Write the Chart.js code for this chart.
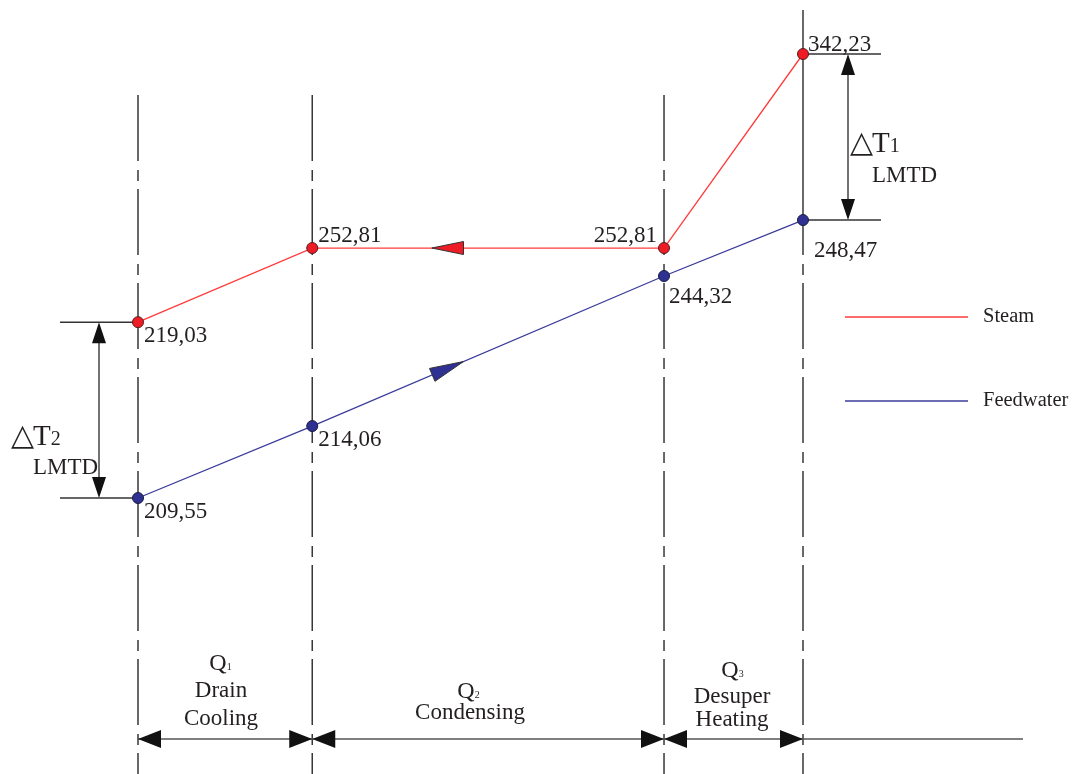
<!DOCTYPE html>
<html>
<head>
<meta charset="utf-8">
<script src="https://cdn.jsdelivr.net/npm/chart.js@4/dist/chart.umd.min.js"></script>
<style>
html,body{margin:0;padding:0;background:#fff;}
#c{display:block;}
</style>
</head>
<body>
<canvas id="c" width="1078" height="774"></canvas>
<script>
// ---- data ----
const zones = ['Drain Cooling', 'Condensing', 'Desuper Heating'];
const zoneQ = ['1', '2', '3'];
// cumulative heat-duty share (%) at the zone boundaries (x positions)
const boundaries = [0, 26.2, 79.1, 100];
// schematic vertical level of each state point (diagram is not to scale)
const steamLevel = [39.6, 56.3, 56.3, 100];
const feedLevel = [0, 16.2, 50.0, 62.6];
// temperature labels written at the points (°C)
const steamLabels = ['219,03', '252,81', '252,81', '342,23'];
const feedLabels = ['209,55', '214,06', '244,32', '248,47'];
const seriesNames = ['Steam', 'Feedwater'];

const SERIF = '"Liberation Serif", "Times New Roman", serif';
const INK = '#231f20';

function head(ctx, tx, ty, dx, dy, len, half, fill, stroke) {
  const n = Math.hypot(dx, dy); dx /= n; dy /= n;
  const bx = tx - dx * len, by = ty - dy * len;
  ctx.beginPath();
  ctx.moveTo(tx, ty);
  ctx.lineTo(bx - dy * half, by + dx * half);
  ctx.lineTo(bx + dy * half, by - dx * half);
  ctx.closePath();
  ctx.fillStyle = fill; ctx.fill();
  if (stroke) { ctx.strokeStyle = stroke; ctx.lineWidth = 1; ctx.stroke(); }
}
function line(ctx, x1, y1, x2, y2, w, col, dash, off) {
  ctx.save();
  ctx.beginPath();
  ctx.setLineDash(dash || []);
  ctx.lineDashOffset = off || 0;
  ctx.moveTo(x1, y1); ctx.lineTo(x2, y2);
  ctx.lineWidth = w; ctx.strokeStyle = col; ctx.stroke();
  ctx.restore();
}
function txt(ctx, s, x, y, size, align) {
  ctx.font = size + 'px ' + SERIF;
  ctx.fillStyle = INK;
  ctx.textAlign = align || 'left';
  ctx.textBaseline = 'alphabetic';
  ctx.fillText(s, x, y);
}
function qlabel(ctx, sub, x, y) {
  ctx.font = '24px ' + SERIF;
  const w = ctx.measureText('Q').width;
  const sw = 6;
  const left = x - (w + sw) / 2;
  txt(ctx, 'Q', left, y, 24);
  txt(ctx, sub, left + w, y, 10);
}
function delta(ctx, sub, x, y) {
  ctx.font = '30px "DejaVu Sans", sans-serif';
  ctx.fillStyle = INK; ctx.textAlign = 'left';
  ctx.fillText('\u25B3', x, y);
  const w1 = ctx.measureText('\u25B3').width;
  txt(ctx, 'T', x + w1 - 1, y, 29);
  ctx.font = '29px ' + SERIF;
  const w2 = ctx.measureText('T').width;
  txt(ctx, sub, x + w1 - 1 + w2, y, 20);
}

const decor = {
  id: 'decor',
  beforeDatasetsDraw(chart) {
    const ctx = chart.ctx;
    const xs = chart.scales.x, ys = chart.scales.y;
    const bx = boundaries.map(v => xs.getPixelForValue(v));
    const H = chart.height;
    const dash = [66, 9, 11, 8];
    const LC = '#2a2a2a';
    // zone boundaries (dash-dot)
    for (let i = 0; i < 3; i++) line(ctx, bx[i], 95, bx[i], H, 1.4, LC, dash, 0);
    line(ctx, bx[3], 10, bx[3], 248, 1.4, LC);
    line(ctx, bx[3], 248, bx[3], H, 1.4, LC, dash, (248 - 95) % 94);
    // delta T extension lines
    const ys0 = ys.getPixelForValue(steamLevel[0]), yf0 = ys.getPixelForValue(feedLevel[0]);
    const ys3 = ys.getPixelForValue(steamLevel[3]), yf3 = ys.getPixelForValue(feedLevel[3]);
    line(ctx, 60, ys0, bx[0], ys0, 1.5, '#333');
    line(ctx, 60, yf0, bx[0], yf0, 1.5, '#333');
    line(ctx, bx[3], ys3, 881, ys3, 1.5, '#333');
    line(ctx, bx[3], yf3, 881, yf3, 1.5, '#333');
    // delta T dimension arrows
    line(ctx, 99, ys0 + 10, 99, yf0 - 10, 1.5, '#444');
    head(ctx, 99, ys0, 0, -1, 21, 7, '#111');
    head(ctx, 99, yf0, 0, 1, 21, 7, '#111');
    line(ctx, 848, ys3 + 10, 848, yf3 - 10, 1.5, '#444');
    head(ctx, 848, ys3, 0, -1, 21, 7, '#111');
    head(ctx, 848, yf3, 0, 1, 21, 7, '#111');
    // bottom dimension line
    const by = 739;
    line(ctx, bx[0], by, 1023, by, 1.5, '#555');
    for (let i = 0; i < 3; i++) {
      head(ctx, bx[i], by, -1, 0, 23, 9, '#111');
      head(ctx, bx[i + 1], by, 1, 0, 23, 9, '#111');
    }
  },
  afterDatasetsDraw(chart) {
    const ctx = chart.ctx;
    const xs = chart.scales.x, ys = chart.scales.y;
    const px = i => xs.getPixelForValue(boundaries[i]);
    const sy = i => ys.getPixelForValue(steamLevel[i]);
    const fy = i => ys.getPixelForValue(feedLevel[i]);
    // flow direction arrows
    const lerp = (a, b, t) => a + (b - a) * t;
    const sT = 0.34, sH = 0.43;
    head(ctx, lerp(px(1), px(2), sT), lerp(sy(1), sy(2), sT),
      -(px(2) - px(1)), -(sy(2) - sy(1)), lerp(px(1), px(2), sH) - lerp(px(1), px(2), sT), 6.5, '#ee1c25', '#333');
    const fx1 = lerp(px(1), px(2), 0.43), fy1 = lerp(fy(1), fy(2), 0.43);
    const dx = px(2) - px(1), dy = fy(2) - fy(1);
    head(ctx, fx1, fy1, dx, dy, 34, 7, '#2e3192', '#333');
    // point labels
    txt(ctx, steamLabels[0], px(0) + 6, sy(0) + 20, 23);
    txt(ctx, steamLabels[1], px(1) + 6, sy(1) - 6, 23);
    txt(ctx, steamLabels[2], px(2) - 7, sy(2) - 6, 23, 'right');
    txt(ctx, steamLabels[3], px(3) + 5, sy(3) - 3, 23);
    txt(ctx, feedLabels[0], px(0) + 6, fy(0) + 20, 23);
    txt(ctx, feedLabels[1], px(1) + 6, fy(1) + 20, 23);
    txt(ctx, feedLabels[2], px(2) + 5, fy(2) + 27, 23);
    txt(ctx, feedLabels[3], px(3) + 11, fy(3) + 37, 23);
    // delta T labels
    delta(ctx, '2', 11, 445);
    txt(ctx, 'LMTD', 33, 474, 23);
    delta(ctx, '1', 850, 152);
    txt(ctx, 'LMTD', 872, 182, 23);
    // zone labels
    qlabel(ctx, zoneQ[0], 221, 670);
    txt(ctx, 'Drain', 221, 697, 23, 'center');
    txt(ctx, 'Cooling', 221, 725, 23, 'center');
    qlabel(ctx, zoneQ[1], 469, 698);
    txt(ctx, 'Condensing', 470, 719, 23, 'center');
    qlabel(ctx, zoneQ[2], 733, 677);
    txt(ctx, 'Desuper', 732, 703, 23, 'center');
    txt(ctx, 'Heating', 732, 726, 23, 'center');
    // legend
    const ds = chart.data.datasets;
    const ly = [317, 401];
    ds.forEach((d, i) => {
      line(ctx, 845, ly[i], 968, ly[i], 1.3, d.borderColor);
      txt(ctx, d.label, 983, ly[i] + 5, 20.5);
    });
  }
};

new Chart(document.getElementById('c'), {
  type: 'scatter',
  data: {
    datasets: [
      {
        label: seriesNames[0],
        data: boundaries.map((x, i) => ({ x, y: steamLevel[i] })),
        showLine: true,
        borderColor: '#ff3b3b',
        borderWidth: 1.3,
        pointBackgroundColor: '#ee1c25',
        pointBorderColor: '#5a1a1a',
        pointBorderWidth: 1,
        pointRadius: 5.5,
        clip: false
      },
      {
        label: seriesNames[1],
        data: boundaries.map((x, i) => ({ x, y: feedLevel[i] })),
        showLine: true,
        borderColor: '#3b3b9b',
        borderWidth: 1.3,
        pointBackgroundColor: '#2e3192',
        pointBorderColor: '#1a1a40',
        pointBorderWidth: 1,
        pointRadius: 5.5,
        clip: false
      }
    ]
  },
  options: {
    responsive: false,
    devicePixelRatio: 1,
    animation: false,
    layout: { padding: { left: 138, right: 275, top: 54, bottom: 276 } },
    scales: {
      x: { type: 'linear', min: 0, max: 100, display: false },
      y: { type: 'linear', min: 0, max: 100, display: false }
    },
    plugins: { legend: { display: false }, tooltip: { enabled: false } },
    events: []
  },
  plugins: [decor]
});
</script>
</body>
</html>
